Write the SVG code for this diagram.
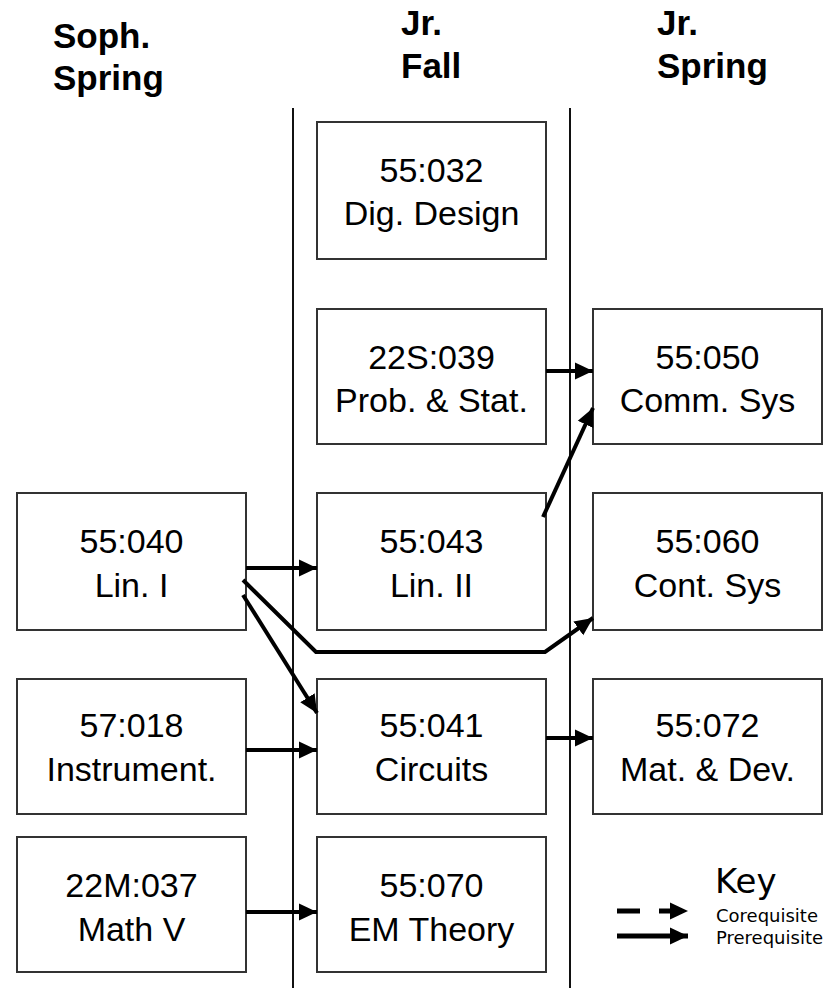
<svg xmlns="http://www.w3.org/2000/svg" width="834" height="988" viewBox="0 0 834 988">
<defs>
<marker id="ah" markerUnits="userSpaceOnUse" markerWidth="19" markerHeight="18" refX="18" refY="9" orient="auto" viewBox="0 0 19 18">
<path d="M0,0.5 L18,9 L0,17.5 z" fill="#000"/>
</marker>
</defs>
<style>
.hd{font-family:"Liberation Sans",Arial,sans-serif;font-weight:bold;font-size:35px;fill:#000}
.box{fill:#fff;stroke:#333;stroke-width:2}
.t{font-family:"Liberation Sans",Arial,sans-serif;font-size:34px;fill:#000;text-anchor:middle}
.sep{stroke:#111;stroke-width:2}
.cn{fill:none;stroke:#000;stroke-width:4;marker-end:url(#ah)}
.key{font-family:"DejaVu Sans",Verdana,sans-serif;fill:#000}
</style>
<rect width="834" height="988" fill="#fff"/>
<g id="headers">
<text class="hd" x="53" y="48">Soph.</text>
<text class="hd" x="53" y="90">Spring</text>
<text class="hd" x="401" y="35">Jr.</text>
<text class="hd" x="401" y="78">Fall</text>
<text class="hd" x="657" y="35">Jr.</text>
<text class="hd" x="657" y="78">Spring</text>
</g>
<g id="separators">
<line class="sep" x1="293" y1="108" x2="293" y2="988"/>
<line class="sep" x1="570" y1="108" x2="570" y2="988"/>
</g>
<g id="n-55-032"><rect class="box" x="317" y="122" width="229" height="137"/><text class="t" x="431.5" y="182">55:032</text><text class="t" x="431.5" y="225">Dig. Design</text></g>
<g id="n-22S-039"><rect class="box" x="317" y="309" width="229" height="135"/><text class="t" x="431.5" y="369">22S:039</text><text class="t" x="431.5" y="412">Prob. &amp; Stat.</text></g>
<g id="n-55-050"><rect class="box" x="593" y="309" width="229" height="135"/><text class="t" x="707.5" y="369">55:050</text><text class="t" x="707.5" y="412">Comm. Sys</text></g>
<g id="n-55-040"><rect class="box" x="17" y="493" width="229" height="137"/><text class="t" x="131.5" y="553">55:040</text><text class="t" x="131.5" y="597">Lin. I</text></g>
<g id="n-55-043"><rect class="box" x="317" y="493" width="229" height="137"/><text class="t" x="431.5" y="553">55:043</text><text class="t" x="431.5" y="597">Lin. II</text></g>
<g id="n-55-060"><rect class="box" x="593" y="493" width="229" height="137"/><text class="t" x="707.5" y="553">55:060</text><text class="t" x="707.5" y="597">Cont. Sys</text></g>
<g id="n-57-018"><rect class="box" x="17" y="679" width="229" height="135"/><text class="t" x="131.5" y="737">57:018</text><text class="t" x="131.5" y="781">Instrument.</text></g>
<g id="n-55-041"><rect class="box" x="317" y="679" width="229" height="135"/><text class="t" x="431.5" y="737">55:041</text><text class="t" x="431.5" y="781">Circuits</text></g>
<g id="n-55-072"><rect class="box" x="593" y="679" width="229" height="135"/><text class="t" x="707.5" y="737">55:072</text><text class="t" x="707.5" y="781">Mat. &amp; Dev.</text></g>
<g id="n-22M-037"><rect class="box" x="17" y="837" width="229" height="135"/><text class="t" x="131.5" y="897">22M:037</text><text class="t" x="131.5" y="941">Math V</text></g>
<g id="n-55-070"><rect class="box" x="317" y="837" width="229" height="135"/><text class="t" x="431.5" y="897">55:070</text><text class="t" x="431.5" y="941">EM Theory</text></g>
<g id="connectors">
<line class="cn" x1="546" y1="371" x2="593" y2="371"/>
<line class="cn" x1="543" y1="517" x2="593" y2="408"/>
<line class="cn" x1="246" y1="568" x2="317" y2="568"/>
<polyline class="cn" points="243,580 316,652 545,652 593,618"/>
<line class="cn" x1="243" y1="595" x2="317" y2="713"/>
<line class="cn" x1="246" y1="750" x2="317" y2="750"/>
<line class="cn" x1="546" y1="738" x2="593" y2="738"/>
<line class="cn" x1="246" y1="912" x2="317" y2="912"/>
</g>
<g id="key">
<text class="key" x="715" y="893" font-size="34">Key</text>
<line x1="617" y1="911" x2="688" y2="911" stroke="#000" stroke-width="5" stroke-dasharray="23 19" marker-end="url(#ah)"/>
<line x1="617" y1="936" x2="688" y2="936" stroke="#000" stroke-width="5" marker-end="url(#ah)"/>
<text class="key" x="716" y="922" font-size="18">Corequisite</text>
<text class="key" x="716" y="944" font-size="18">Prerequisite</text>
</g>
</svg>
